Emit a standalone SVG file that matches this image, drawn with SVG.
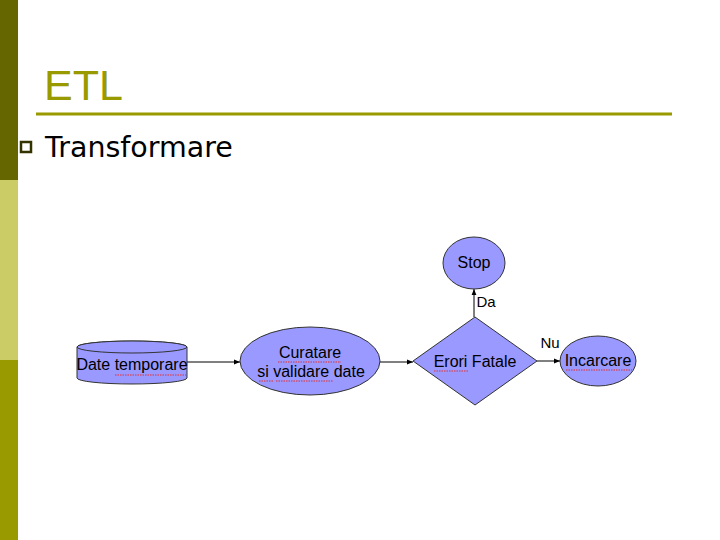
<svg xmlns="http://www.w3.org/2000/svg" width="720" height="540" viewBox="0 0 720 540">
<defs>
<marker id="arr" viewBox="0 0 10 10" refX="10" refY="5" markerWidth="6" markerHeight="6" orient="auto" markerUnits="userSpaceOnUse"><path d="M0,1 L10,5 L0,9 z" fill="#000"/></marker>
</defs>
<style>
.shape{fill:#9999ff;stroke:#333;stroke-width:1}
.lbl{font-family:"Liberation Sans",Arial,sans-serif;font-size:16px;fill:#000;text-anchor:middle}
.conn{stroke:#000;stroke-width:1;fill:none}
.sq{stroke:#e03030;stroke-width:1;fill:none;stroke-dasharray:1.5 1}
</style>
<rect width="720" height="540" fill="#fff"/>
<rect x="0" y="0" width="18" height="180" fill="#666600"/>
<rect x="0" y="180" width="18" height="180" fill="#cccc66"/>
<rect x="0" y="360" width="18" height="180" fill="#999900"/>
<text x="44" y="100" font-family="Liberation Sans,Arial,sans-serif" font-size="43" fill="#999900">ETL</text>
<line x1="36" y1="114" x2="672" y2="114" stroke="#999900" stroke-width="3"/>
<rect x="21" y="142" width="10" height="10" fill="#fff" stroke="#333300" stroke-width="2.5"/>
<text x="45" y="157" font-family="DejaVu Sans,Verdana,sans-serif" font-size="28.5" fill="#000">Transformare</text>
<g id="connectors">
<line class="conn" x1="187" y1="362" x2="240" y2="362" marker-end="url(#arr)"/>
<line class="conn" x1="380" y1="362" x2="413" y2="362" marker-end="url(#arr)"/>
<line class="conn" x1="474" y1="317" x2="474" y2="289" marker-end="url(#arr)"/>
<line class="conn" x1="537" y1="361" x2="560" y2="361" marker-end="url(#arr)"/>
<text class="lbl" x="486" y="307" style="font-size:15px">Da</text>
<text class="lbl" x="550" y="348" style="font-size:15px">Nu</text>
</g>
<g id="date-temporare">
<path class="shape" d="M77,347 L77,378 A55,6 0 0 0 187,378 L187,347 A55,6 0 0 0 77,347 Z"/>
<ellipse class="shape" cx="132" cy="347" rx="55" ry="6"/>
<text class="lbl" x="132" y="370">Date temporare</text>
<path class="sq" d="M115,375 H186"/>
</g>
<g id="curatare">
<ellipse class="shape" cx="310" cy="361" rx="70" ry="34"/>
<text class="lbl" x="310" y="358">Curatare</text>
<text class="lbl" x="311" y="377">si validare date</text>
<path class="sq" d="M278,362 H341 M259,381 H273 M276,381 H333"/>
</g>
<g id="erori">
<path class="shape" d="M475,317 L537,361 L475,405 L413,361 Z"/>
<text class="lbl" x="475" y="367">Erori Fatale</text>
<path class="sq" d="M434,371 H468"/>
</g>
<g id="stop">
<ellipse class="shape" cx="474" cy="263" rx="31" ry="26"/>
<text class="lbl" x="474" y="268">Stop</text>
</g>
<g id="incarcare">
<ellipse class="shape" cx="598" cy="361" rx="38" ry="25"/>
<text class="lbl" x="598" y="366">Incarcare</text>
<path class="sq" d="M566,370 H632"/>
</g>
</svg>
